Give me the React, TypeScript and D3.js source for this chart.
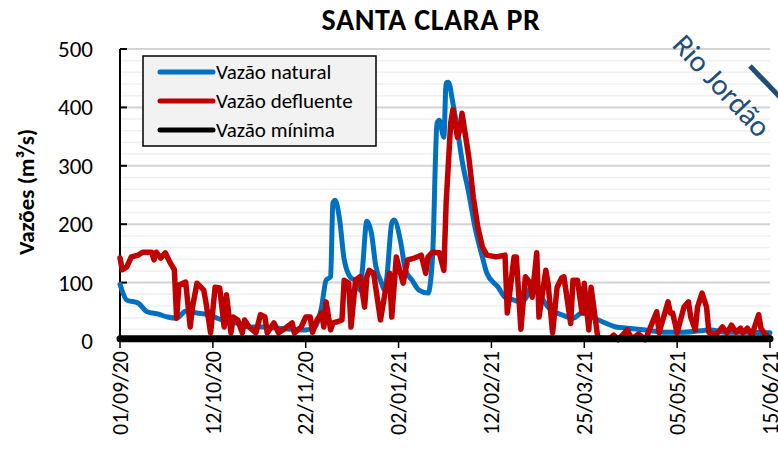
import React from "react";
import * as d3 from "d3";

const title = "SANTA CLARA PR";
const yAxisTitle = "Vazões (m³/s)";
const startDate = new Date(2020, 8, 1);
const endDate = new Date(2021, 5, 15);
const tickLabels = ["01/09/20", "12/10/20", "22/11/20", "02/01/21", "12/02/21", "25/03/21", "05/05/21", "15/06/21"];
const yTicks = [0, 100, 200, 300, 400, 500];
const seriesNames = ["Vazão natural", "Vazão defluente", "Vazão mínima"];
const seriesColors = ["#0070c0", "#c00000", "#000000"];

// days since 01/09/20
const naturalDays = [0, 3, 8, 12, 17, 21, 25, 29, 34, 39, 45, 51, 57, 64, 70, 82, 86, 89, 91, 93, 94, 95, 97, 99, 102, 104, 106, 107, 109, 111, 113, 115, 117, 118, 120, 121, 124, 126, 129, 132, 136, 138, 140, 141, 143, 144, 145, 147, 149, 151, 154, 157, 160, 162, 167, 170, 174, 177, 180, 182, 185, 189, 195, 200, 204, 208, 213, 219, 224, 232, 241, 249, 261, 267, 276, 287];
const naturalValues = [97, 70, 65, 50, 46, 41, 39, 51, 48, 45, 36, 31, 24, 24, 22, 19, 24, 58, 104, 110, 236, 241, 207, 139, 108, 104, 87, 121, 205, 185, 127, 104, 87, 116, 202, 207, 168, 122, 104, 87, 82, 144, 373, 378, 349, 442, 443, 407, 361, 310, 253, 190, 144, 116, 92, 75, 70, 67, 79, 99, 82, 58, 45, 39, 48, 41, 33, 24, 22, 19, 15, 15, 19, 15, 15, 14];

const defluenteDays = [0, 1, 3, 5, 8, 10, 14, 15, 16, 18, 20, 22, 24, 25, 26, 29, 31, 32, 34, 37, 38, 40, 42, 44, 46, 47, 49, 50, 52, 54, 55, 57, 60, 62, 64, 65, 68, 70, 73, 76, 77, 80, 82, 84, 85, 87, 89, 90, 91, 93, 94, 96, 98, 99, 101, 102, 104, 106, 108, 109, 110, 112, 115, 117, 119, 120, 122, 125, 127, 130, 133, 135, 136, 138, 141, 143, 144, 146, 147, 149, 150, 151, 154, 156, 158, 160, 162, 166, 170, 171, 174, 175, 177, 179, 181, 182, 184, 185, 188, 189, 191, 193, 195, 196, 199, 200, 202, 204, 205, 207, 208, 211, 216, 218, 220, 224, 226, 229, 232, 235, 237, 238, 242, 243, 244, 246, 249, 251, 252, 254, 255, 257, 259, 260, 263, 266, 268, 270, 272, 274, 275, 277, 279, 282, 283, 285, 287];
const defluenteValues = [142, 122, 127, 144, 147, 152, 152, 139, 152, 142, 151, 135, 122, 39, 96, 101, 24, 58, 99, 87, 65, 14, 92, 91, 24, 79, 14, 41, 36, 14, 36, 24, 14, 45, 41, 14, 31, 14, 22, 31, 14, 24, 41, 41, 15, 36, 48, 24, 67, 19, 31, 33, 36, 104, 99, 24, 104, 110, 58, 110, 121, 116, 36, 82, 116, 41, 144, 99, 139, 142, 147, 116, 144, 152, 151, 121, 236, 373, 396, 349, 361, 390, 315, 246, 195, 161, 147, 144, 147, 48, 144, 144, 20, 110, 100, 75, 151, 41, 121, 99, 14, 92, 108, 110, 30, 104, 104, 48, 99, 19, 92, 5, 3, 10, 2, 19, 3, 12, 2, 31, 50, 14, 67, 48, 48, 14, 58, 67, 41, 19, 58, 82, 58, 15, 10, 24, 14, 27, 15, 22, 14, 22, 10, 45, 22, 10, 5];

const minimaDays = [0, 287];
const minimaValues = [4, 4];

const FONT = "Carlito, Calibri, Lato, sans-serif";

export default function App() {
  const W = 778, H = 453;
  const left = 120, right = 770, top = 49, bottom = 341;
  const x = d3.scaleTime().domain([startDate, endDate]).range([left, right]);
  const y = d3.scaleLinear().domain([0, 500]).range([bottom, top]);
  const dayToDate = (d: number) => d3.timeDay.offset(startDate, d);
  const tickDates = tickLabels.map((t) => {
    const [dd, mm, yy] = t.split("/").map(Number);
    return new Date(2000 + yy, mm - 1, dd);
  });

  const mk = (days: number[], vals: number[]) => days.map((d, i) => ({ date: dayToDate(d), v: vals[i] }));
  const natural = mk(naturalDays, naturalValues);
  const defl = mk(defluenteDays, defluenteValues);
  const minima = mk(minimaDays, minimaValues);

  const line = d3.line<{ date: Date; v: number }>().x((d) => x(d.date)).y((d) => y(d.v));
  const smooth = d3.line<{ date: Date; v: number }>().x((d) => x(d.date)).y((d) => y(d.v)).curve(d3.curveMonotoneX);

  const minorTicks = d3.range(0, 501, 20).filter((v) => v % 100 !== 0);

  return (
    <svg width={W} height={H} style={{ position: "absolute", left: 0, top: 0, background: "#fff" }} fontFamily={FONT}>
      <rect x={0} y={0} width={W} height={H} fill="#fff" />
      {/* grid */}
      {minorTicks.map((v) => (
        <line key={"m" + v} x1={left} x2={right} y1={y(v)} y2={y(v)} stroke="#efefef" strokeWidth={1.5} />
      ))}
      {yTicks.filter((v) => v > 0).map((v) => (
        <line key={"g" + v} x1={left} x2={right} y1={y(v)} y2={y(v)} stroke="#d4d4d4" strokeWidth={2} />
      ))}
      {/* title */}
      <text x={431} y={30} textAnchor="middle" fontSize={30} fontWeight="bold" letterSpacing={0.6} fill="#000">{title}</text>
      {/* y axis */}
      <line x1={left} x2={left} y1={top} y2={bottom} stroke="#000" strokeWidth={2} />
      {yTicks.map((v) => (
        <g key={"yt" + v}>
          <line x1={left} x2={left + 7} y1={y(v)} y2={y(v)} stroke="#000" strokeWidth={2} />
          <text x={93} y={y(v)} dy="0.35em" textAnchor="end" fontSize={23} fill="#000">{v}</text>
        </g>
      ))}
      <text transform={`translate(34,192) rotate(-90)`} textAnchor="middle" fontSize={23} fontWeight="bold" fill="#000">{yAxisTitle}</text>
      {/* x axis */}
      <line x1={left} x2={right} y1={bottom} y2={bottom} stroke="#000" strokeWidth={2} />
      {tickDates.map((d, i) => (
        <g key={"xt" + i}>
          <line x1={x(d)} x2={x(d)} y1={bottom} y2={bottom + 7} stroke="#000" strokeWidth={1.5} />
          <text transform={`translate(${x(d)},${bottom + 10}) rotate(-90)`} textAnchor="end" dy="0.35em" fontSize={22} fill="#000">{tickLabels[i]}</text>
        </g>
      ))}
      {/* series */}
      <path d={smooth(natural) || ""} fill="none" stroke={seriesColors[0]} strokeWidth={5} strokeLinejoin="round" strokeLinecap="round" />
      <path d={line(defl) || ""} fill="none" stroke={seriesColors[1]} strokeWidth={5.5} strokeLinejoin="round" strokeLinecap="round" />
      <path d={line(minima) || ""} fill="none" stroke={seriesColors[2]} strokeWidth={7} strokeLinecap="round" />
      {/* legend */}
      <rect x={143} y={56} width={233} height={90} fill="#f2f2f2" stroke="#000" strokeWidth={1.5} />
      {seriesNames.map((n, i) => (
        <g key={n}>
          <line x1={160} x2={213} y1={72 + i * 29} y2={72 + i * 29} stroke={seriesColors[i]} strokeWidth={5} strokeLinecap="round" />
          <text x={216} y={72 + i * 29} dy="0.35em" fontSize={21} fill="#000">{n}</text>
        </g>
      ))}
      {/* Rio Jordão annotation */}
      <text transform="translate(671,46) rotate(47)" fontSize={30} fill="#1f4e79">Rio Jordão</text>
      <line x1={750} y1={66} x2={800} y2={118} stroke="#1f4e79" strokeWidth={5} />
    </svg>
  );
}
